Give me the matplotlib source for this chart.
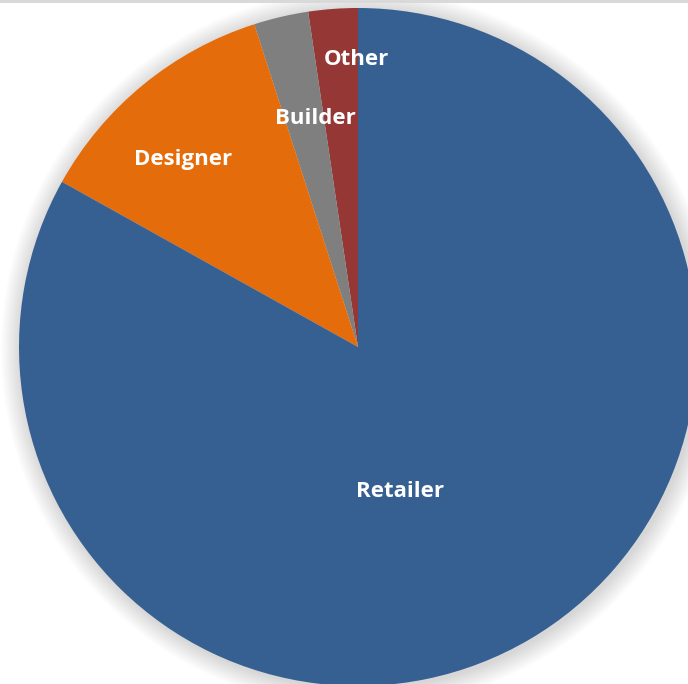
import matplotlib.pyplot as plt
from matplotlib.patches import Circle, Rectangle

categories = ["Other", "Builder", "Designer", "Retailer"]
shares = [2.35, 2.6, 11.95, 83.1]
colors = ["#953735", "#7F7F7F", "#E46C0A", "#376092"]

# label anchor points (baseline) in pie radius units
label_pos = {
    "Retailer": (0.124, -0.442),
    "Designer": (-0.515, 0.537),
    "Builder": (-0.127, 0.658),
    "Other": (-0.006, 0.832),
}

fig = plt.figure(figsize=(6.88, 6.84), dpi=100)
fig.patch.set_facecolor("white")
ax = fig.add_axes([19 / 688, -2 / 684, 678 / 688, 678 / 684])

# soft shadow around the pie
for i in range(20):
    r = 1.0 + 0.003 * (i + 1)
    ax.add_patch(Circle((0.006, -0.006), r, color="#000000", alpha=0.008,
                        lw=0, zorder=0, clip_on=False))

wedges, _ = ax.pie(shares, colors=colors, startangle=90, counterclock=True,
                   radius=1.0, wedgeprops=dict(linewidth=0))
for w in wedges:
    w.set_zorder(2)

for name in categories:
    x, y = label_pos[name]
    ax.text(x, y, name, ha="center", va="baseline", color="white",
            fontsize=16, fontweight="bold", family=["Open Sans", "DejaVu Sans"], zorder=3)

ax.set_xlim(-1, 1)
ax.set_ylim(-1, 1)
ax.set_aspect("equal")
ax.axis("off")

# thin grey rule at the very top
fig.patches.append(Rectangle((0, 1 - 3 / 684), 1, 3 / 684, transform=fig.transFigure,
                             color="#D9D9D9", lw=0, zorder=5))

fig.savefig("out.png", dpi=100)
